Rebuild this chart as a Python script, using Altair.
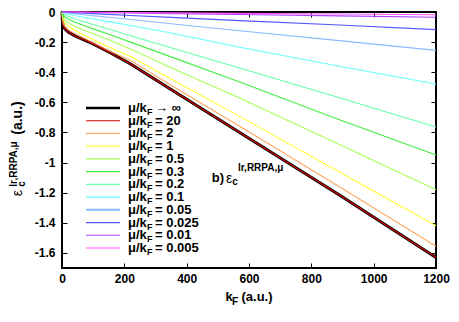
import altair as alt
import pandas as pd

# ---------------- data ----------------
kf = [0, 1, 3, 6, 10, 20, 40, 70, 100, 150, 220, 350, 570, 890, 1200]

mu_labels = ["inf", "20", "2", "1", "0.5", "0.3", "0.2", "0.1", "0.05", "0.025", "0.01", "0.005"]
legend_rest = ["→ ∞", "= 20", "= 2", "= 1", "= 0.5", "= 0.3", "= 0.2", "= 0.1", "= 0.05", "= 0.025", "= 0.01", "= 0.005"]

eps_inf   = [0, -0.05, -0.085, -0.1, -0.113, -0.133, -0.157, -0.185, -0.212, -0.265, -0.345, -0.515, -0.80, -1.215, -1.63]
eps_20    = [0, -0.05, -0.085, -0.1, -0.113, -0.133, -0.157, -0.185, -0.212, -0.265, -0.345, -0.515, -0.80, -1.215, -1.63]
eps_2     = [0, -0.035, -0.066, -0.084, -0.097, -0.117, -0.143, -0.172, -0.203, -0.255, -0.322, -0.487, -0.759, -1.16, -1.555]
eps_1     = [0, -0.022, -0.045, -0.062, -0.075, -0.095, -0.12, -0.152, -0.183, -0.232, -0.295, -0.445, -0.693, -1.062, -1.42]
eps_05    = [0, -0.015, -0.033, -0.046, -0.057, -0.072, -0.095, -0.12, -0.145, -0.185, -0.245, -0.37, -0.571, -0.88, -1.18]
eps_03    = [0, -0.008, -0.018, -0.027, -0.035, -0.047, -0.066, -0.09, -0.112, -0.148, -0.2, -0.298, -0.465, -0.715, -0.95]
eps_02    = [0, -0.003, -0.008, -0.014, -0.02, -0.03, -0.045, -0.065, -0.083, -0.113, -0.158, -0.238, -0.372, -0.57, -0.764]
eps_01    = [0, -0.001, -0.003, -0.005, -0.008, -0.014, -0.023, -0.035, -0.046, -0.064, -0.09, -0.14, -0.234, -0.36, -0.478]
eps_005   = [0, 0, -0.001, -0.002, -0.003, -0.006, -0.011, -0.018, -0.025, -0.035, -0.05, -0.078, -0.124, -0.19, -0.255]
eps_0025  = [0, 0, 0, -0.001, -0.001, -0.003, -0.005, -0.008, -0.011, -0.016, -0.023, -0.036, -0.057, -0.086, -0.117]
eps_001   = [0, 0, 0, 0, 0, 0, -0.001, -0.002, -0.003, -0.005, -0.007, -0.011, -0.017, -0.026, -0.035]
eps_0005  = [0, 0, 0, 0, 0, 0, -0.0005, -0.001, -0.0015, -0.0025, -0.0035, -0.0055, -0.009, -0.013, -0.018]

all_eps = [eps_inf, eps_20, eps_2, eps_1, eps_05, eps_03, eps_02, eps_01, eps_005, eps_0025, eps_001, eps_0005]

colors = ["#000000", "#dd0000", "#ffa860", "#ffff33", "#aaff55", "#44ee44", "#66ffaa",
          "#66ffff", "#88bbff", "#5555ff", "#aa44ff", "#ff55ff"]
legend_widths = [2.6, 1.2, 1.2, 1.2, 1.2, 1.2, 1.2, 1.2, 2.0, 1.2, 1.2, 1.2]

x_ticks = [0, 200, 400, 600, 800, 1000, 1200]
y_ticks = [0, -0.2, -0.4, -0.6, -0.8, -1, -1.2, -1.4, -1.6]

# ---------------- tables ----------------
rows = []
for lab, vals in zip(mu_labels, all_eps):
    for k, v in zip(kf, vals):
        rows.append({"kF": k, "eps": v, "mu": lab})
df = pd.DataFrame(rows)
df_black = df[df["mu"] == "inf"]
df_rest = df[df["mu"] != "inf"]

leg_df = pd.DataFrame({"idx": list(range(len(mu_labels))), "mu": mu_labels,
                       "w": legend_widths,
                       "first": ["μ/k"] * len(mu_labels), "sub": ["F"] * len(mu_labels),
                       "rest": legend_rest})

FONT = "Liberation Sans"
W, H = 374, 256

xs = alt.Scale(domain=[0, 1200], nice=False, zero=False)
ys = alt.Scale(domain=[-1.7, 0], nice=False, zero=False)
cscale = alt.Scale(domain=mu_labels, range=colors)
lscale = alt.Scale(domain=[0, 11], range=[96, 236])

ax_bottom = alt.Axis(values=x_ticks, orient="bottom", format="d", labelFont=FONT, labelFontSize=12,
                     labelFontWeight="bold", labelColor="black", domain=False, tickColor="black",
                     tickSize=5, offset=-5, labelPadding=5, grid=False, title=None,
                     labelFlush=False, labelOverlap=False)
ax_left = alt.Axis(values=y_ticks, orient="left", labelFont=FONT, labelFontSize=12,
                   labelFontWeight="bold", labelColor="black", domain=False, tickColor="black",
                   tickSize=5, offset=-5, labelPadding=7, grid=False, title=None,
                   labelExpr="'' + datum.value", labelFlush=False, labelOverlap=False)
ax_top = alt.Axis(values=x_ticks, orient="top", labels=False, domain=False, tickColor="black",
                  tickSize=5, offset=-5, grid=False, title=None)
ax_right = alt.Axis(values=y_ticks, orient="right", labels=False, domain=False, tickColor="black",
                    tickSize=5, offset=-5, grid=False, title=None)

black = alt.Chart(df_black).mark_line(color="black", strokeWidth=3).encode(
    x=alt.X("kF:Q", scale=xs, axis=ax_bottom),
    y=alt.Y("eps:Q", scale=ys, axis=ax_left),
)

others = alt.Chart(df_rest).mark_line(strokeWidth=1.1).encode(
    x=alt.X("kF:Q", scale=xs, axis=ax_top),
    y=alt.Y("eps:Q", scale=ys, axis=ax_right),
    color=alt.Color("mu:N", scale=cscale, legend=None),
    detail="mu:N",
)

leg_rules = alt.Chart(leg_df).mark_rule().encode(
    x=alt.value(24), x2=alt.value(58),
    y=alt.Y("idx:Q", scale=lscale, axis=None),
    color=alt.Color("mu:N", scale=cscale, legend=None),
    strokeWidth=alt.StrokeWidth("w:Q", scale=None, legend=None),
)
leg_t1 = alt.Chart(leg_df).mark_text(align="left", baseline="middle", font=FONT, fontSize=13,
                                     fontWeight="bold", color="black").encode(
    x=alt.value(66), y=alt.Y("idx:Q", scale=lscale, axis=None), text="first:N")
leg_t2 = alt.Chart(leg_df).mark_text(align="left", baseline="middle", font=FONT, fontSize=9,
                                     fontWeight="bold", color="black", dy=4).encode(
    x=alt.value(85), y=alt.Y("idx:Q", scale=lscale, axis=None), text="sub:N")
leg_t3 = alt.Chart(leg_df).mark_text(align="left", baseline="middle", font=FONT, fontSize=13,
                                     fontWeight="bold", color="black").encode(
    x=alt.value(93), y=alt.Y("idx:Q", scale=lscale, axis=None), text="rest:N")


def label(txt, x, y, size=13, weight="bold", align="center", angle=0):
    kw = dict(text=txt, font=FONT, fontSize=size, fontWeight=weight, align=align,
              baseline="middle", color="black")
    if angle:
        kw["angle"] = angle
    return alt.Chart(pd.DataFrame({"a": [0]})).mark_text(**kw).encode(
        x=alt.value(x), y=alt.value(y))


texts = [
    # x title
    label("k", 167, 285, 13),
    label("F", 173, 290, 10),
    label("(a.u.)", 195, 285, 13),
    # y title (rotated)
    label("ε", -44, 181, 14, "normal", angle=270),
    label("c", -40, 172, 10, angle=270),
    label("lr,RRPA,μ", -48, 152, 10, align="center", angle=270),
    label("(a.u.)", -44, 106, 14, angle=270),
    # annotation
    label("b)", 156, 166, 13),
    label("ε", 167, 167, 14, "normal"),
    label("c", 173, 170, 10),
    label("lr,RRPA,μ", 176, 156, 10, align="left"),
]

chart = alt.layer(black, others, leg_rules, leg_t1, leg_t2, leg_t3, *texts).resolve_scale(
    x="independent", y="independent", color="shared"
).resolve_axis(x="independent", y="independent").properties(
    width=W, height=H,
    autosize=alt.AutoSizeParams(type="none"),
    padding={"left": 54, "top": 4, "right": 15, "bottom": 46},
).configure_view(stroke="black", strokeWidth=2)

chart.save("out.html", embed_options={"renderer": "svg", "actions": False})
